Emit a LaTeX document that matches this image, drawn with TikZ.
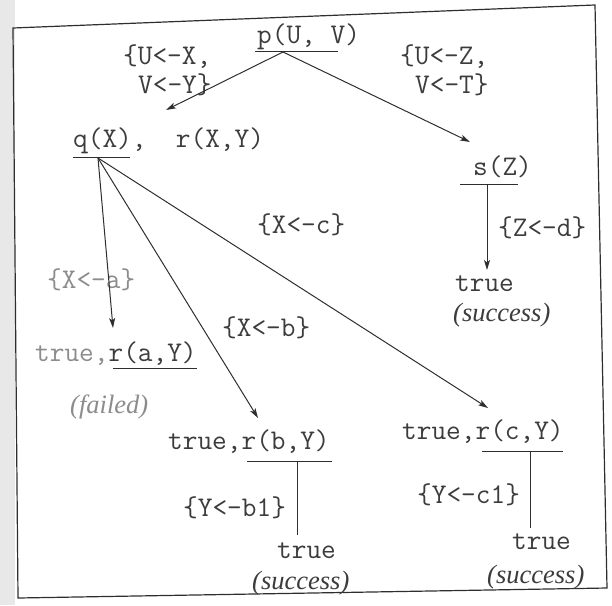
\documentclass[tikz,border=0pt]{standalone}
\usepackage{fontspec}
\setmainfont{Liberation Serif}
\usetikzlibrary{arrows.meta}
\definecolor{ink}{HTML}{3C3C3C}
\definecolor{faint}{HTML}{8C8C8C}
\definecolor{rule}{HTML}{2E2E2E}
\begin{document}
\begin{tikzpicture}[x=1pt,y=-1pt,
  mono/.style={font=\fontsize{28.5}{31}\selectfont\ttfamily, text=ink, inner sep=0pt, anchor=west, text height=17pt, text depth=4pt},
  ital/.style={font=\fontsize{26.5}{30}\selectfont\itshape, text=ink, inner sep=0pt, anchor=west, text height=17pt, text depth=5pt},
  arr/.style={draw=rule, line width=1pt, -{Stealth[length=10pt,width=6pt,inset=2.5pt]}},
  ln/.style={draw=rule, line width=1pt},
]
\useasboundingbox (0,0) rectangle (612,605);
\fill[gray!18] (0,0) rectangle (15,605);
\draw[ln, line width=1.2pt] (13,28) -- (595,5) -- (607,588) -- (18,598) -- cycle;

% root
\node[mono] (p) at (257,37) {p(U, V)};
\coordinate (pL) at (255,51); \coordinate (pR) at (338,51);
\draw[ln] (pL) -- (pR);
\coordinate (pA) at (283,52);
\node[mono] (u1) at (123,58) {\{U<-X,};
\node[mono] (u2) at (138,87) {V<-Y\}};
\node[mono] (z1) at (400,58) {\{U<-Z,};
\node[mono] (z2) at (415,87) {V<-T\}};
\coordinate (tipL) at (166,110);
\coordinate (tipR) at (470,142);
\draw[arr] (pA) -- (tipL);
\draw[arr] (pA) -- (tipR);

% q branch
\node[mono] (q) at (73,141) {q(X),\ \ r(X,Y)};
\coordinate (qL) at (73,157); \coordinate (qR) at (130,157);
\draw[ln] (qL) -- (qR);
\coordinate (qA) at (98,158);

% s branch
\node[mono] (s) at (473,169) {s(Z)};
\coordinate (sL) at (460,184); \coordinate (sR) at (518,184);
\draw[ln] (sL) -- (sR);
\coordinate (sA) at (487,184);
\coordinate (tipS) at (487,270);
\draw[arr] (sA) -- (tipS);
\node[mono] (zd) at (498,230) {\{Z<-d\}};
\node[mono] (t1) at (455,285) {true};
\node[ital] (succ1) at (453,315) {(success)};

% labels of q arrows
\node[mono] (xc) at (257,227) {\{X<-c\}};
\node[mono, text=faint] (xa) at (47,282) {\{X<-a\}};
\node[mono] (xb) at (222,330) {\{X<-b\}};

\coordinate (tipA) at (113,328);
\coordinate (tipB) at (258,418);
\coordinate (tipC) at (488,408);
\draw[arr] (qA) -- (tipA);
\draw[arr] (qA) -- (tipB);
\draw[arr] (qA) -- (tipC);

% a result
\node[mono] (ta) at (35,355) {\textcolor{faint}{true,}r(a,Y)};
\coordinate (aL) at (113,368); \coordinate (aR) at (197,368);
\draw[ln] (aL) -- (aR);
\node[ital, text=faint] (fail) at (70,407) {(failed)};

% b result
\node[mono] (tb) at (168,443) {true,r(b,Y)};
\coordinate (bL) at (247,461); \coordinate (bR) at (332,461);
\draw[ln] (bL) -- (bR);
\coordinate (bA) at (297,461); \coordinate (bE) at (297,535);
\draw[ln] (bA) -- (bE);
\node[mono] (yb) at (183,510) {\{Y<-b1\}};
\node[mono] (tb2) at (277,552) {true};
\node[ital] (sb) at (252,583) {(success)};

% c result
\node[mono] (tc) at (402,433) {true,r(c,Y)};
\coordinate (cL) at (482,451); \coordinate (cR) at (563,451);
\draw[ln] (cL) -- (cR);
\coordinate (cA) at (530,451); \coordinate (cE) at (530,528);
\draw[ln] (cA) -- (cE);
\node[mono] (yc) at (417,497) {\{Y<-c1\}};
\node[mono] (tc2) at (512,543) {true};
\node[ital] (sc) at (487,577) {(success)};
\end{tikzpicture}
\end{document}
